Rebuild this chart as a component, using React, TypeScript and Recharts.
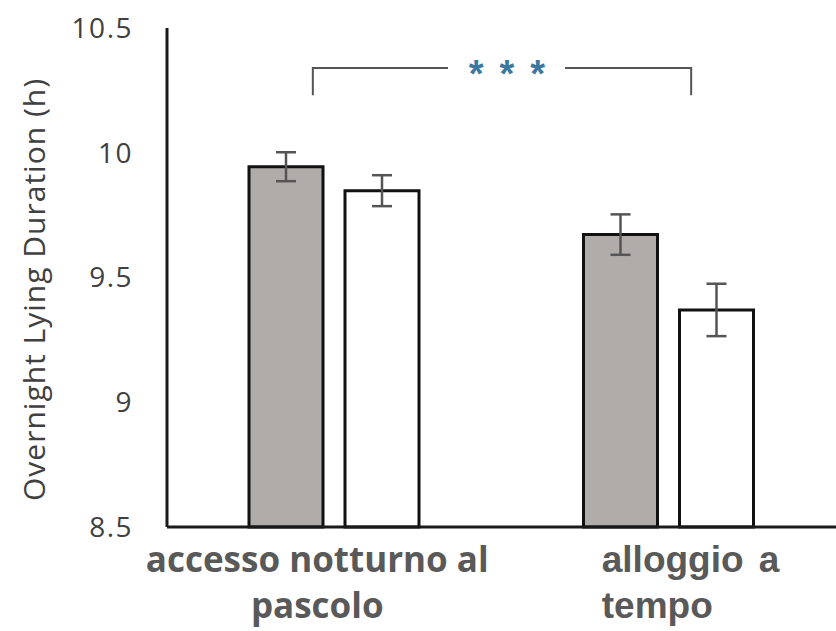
import { BarChart, Bar, LineChart, Line, XAxis, YAxis, ErrorBar } from 'recharts';

const categories = ['accesso notturno al pascolo', 'alloggio a tempo'];
const labelLines = [
  ['accesso notturno al', 'pascolo'],
  ['alloggio a', 'tempo'],
];
const greyMeans = [9.944, 9.672];
const greyErrors = [0.058, 0.081];
const whiteMeans = [9.848, 9.37];
const whiteErrors = [0.062, 0.105];
const yTicks = [8.5, 9, 9.5, 10, 10.5];
const yDomain = [8.5, 10.5];

// significance bracket, x on a 0..2 helper axis (one unit per category)
const bracketLeft = [
  { x: 0.436, y: 10.23 },
  { x: 0.436, y: 10.34 },
  { x: 0.84, y: 10.34 },
];
const bracketRight = [
  { x: 1.19, y: 10.34 },
  { x: 1.567, y: 10.34 },
  { x: 1.567, y: 10.23 },
];
const bracketMark = [{ x: 1.04, y: 10.34, text: '***' }];

const W = 836;
const H = 631;
const margin = { top: 28, right: 0, bottom: 0, left: 0 };
const yAxisWidth = 167;
const xAxisHeight = 104;

const data = categories.map((name, i) => ({
  name,
  grey: greyMeans[i],
  greyErr: greyErrors[i],
  white: whiteMeans[i],
  whiteErr: whiteErrors[i],
}));

const CategoryTick = (props: any) => {
  const { x, y, payload } = props;
  const lines = labelLines[payload.index] || [payload.value];
  const first = payload.index === 0;
  return (
    <g>
      {lines.map((line: string, k: number) => (
        <text
          key={k}
          x={first ? x - 17 : x - 67}
          y={y + 45 + k * 46}
          textAnchor={first ? 'middle' : 'start'}
          fill="#595959"
          fontWeight={700}
          fontSize={first ? 35 : 37}
          fontFamily={first ? "'Open Sans', sans-serif" : "'Liberation Sans', Arial, sans-serif"}
          style={first ? undefined : { wordSpacing: 5 }}
        >
          {line}
        </text>
      ))}
    </g>
  );
};

const AxisTitle = (props: any) => {
  const { viewBox } = props;
  const cx = viewBox.x + 33;
  const cy = viewBox.y + viewBox.height / 2 + 12;
  return (
    <text
      x={cx}
      y={cy}
      transform={`rotate(-90, ${cx}, ${cy})`}
      textAnchor="middle"
      dominantBaseline="central"
      fill="#404040"
      fontSize={30}
      letterSpacing={1}
      fontFamily="'Open Sans', sans-serif"
    >
      Overnight Lying Duration (h)
    </text>
  );
};

const StarsDot = (props: any) => (
  <text
    x={props.cx}
    y={props.cy + 19}
    textAnchor="middle"
    fill="#3a78a0"
    fontSize={38}
    fontWeight={700}
    letterSpacing={16}
    fontFamily="'Liberation Sans', Arial, sans-serif"
  >
    {props.payload.text}
  </text>
);

export default function App() {
  return (
    <div style={{ position: 'absolute', left: 0, top: 0, width: W, height: H, background: '#fff' }}>
      <BarChart width={W} height={H} data={data} margin={margin} barSize={74} barGap={22}>
        <XAxis
          dataKey="name"
          height={xAxisHeight}
          axisLine={{ stroke: '#1a1a1a', strokeWidth: 3 }}
          tickLine={false}
          tickSize={0}
          tickMargin={0}
          interval={0}
          tick={<CategoryTick />}
        />
        <YAxis
          width={yAxisWidth}
          domain={yDomain}
          ticks={yTicks}
          axisLine={{ stroke: '#1a1a1a', strokeWidth: 3 }}
          tickLine={false}
          tickSize={0}
          tickMargin={34}
          tick={{ fill: '#404040', fontSize: 28, letterSpacing: 1.5, fontFamily: "'Open Sans', sans-serif" }}
          label={<AxisTitle />}
        />
        <Bar dataKey="grey" fill="#b0acaa" stroke="#111" strokeWidth={3} isAnimationActive={false}>
          <ErrorBar dataKey="greyErr" width={10} stroke="#555" strokeWidth={2.5} />
        </Bar>
        <Bar dataKey="white" fill="#fff" stroke="#111" strokeWidth={3} isAnimationActive={false}>
          <ErrorBar dataKey="whiteErr" width={10} stroke="#555" strokeWidth={2.5} />
        </Bar>
      </BarChart>

      {/* bracket layer: same plot box, numeric x so it can sit between categories */}
      <div style={{ position: 'absolute', left: 0, top: 0 }}>
        <LineChart
          width={W}
          height={H}
          margin={{ top: margin.top, right: 0, bottom: xAxisHeight, left: yAxisWidth }}
        >
          <XAxis dataKey="x" type="number" domain={[0, 2]} allowDataOverflow hide />
          <YAxis type="number" domain={yDomain} allowDataOverflow hide />
          <Line data={bracketLeft} dataKey="y" type="linear" stroke="#555" strokeWidth={2} dot={false} isAnimationActive={false} />
          <Line data={bracketRight} dataKey="y" type="linear" stroke="#555" strokeWidth={2} dot={false} isAnimationActive={false} />
          <Line data={bracketMark} dataKey="y" stroke="none" dot={<StarsDot />} activeDot={false} isAnimationActive={false} />
        </LineChart>
      </div>
    </div>
  );
}
